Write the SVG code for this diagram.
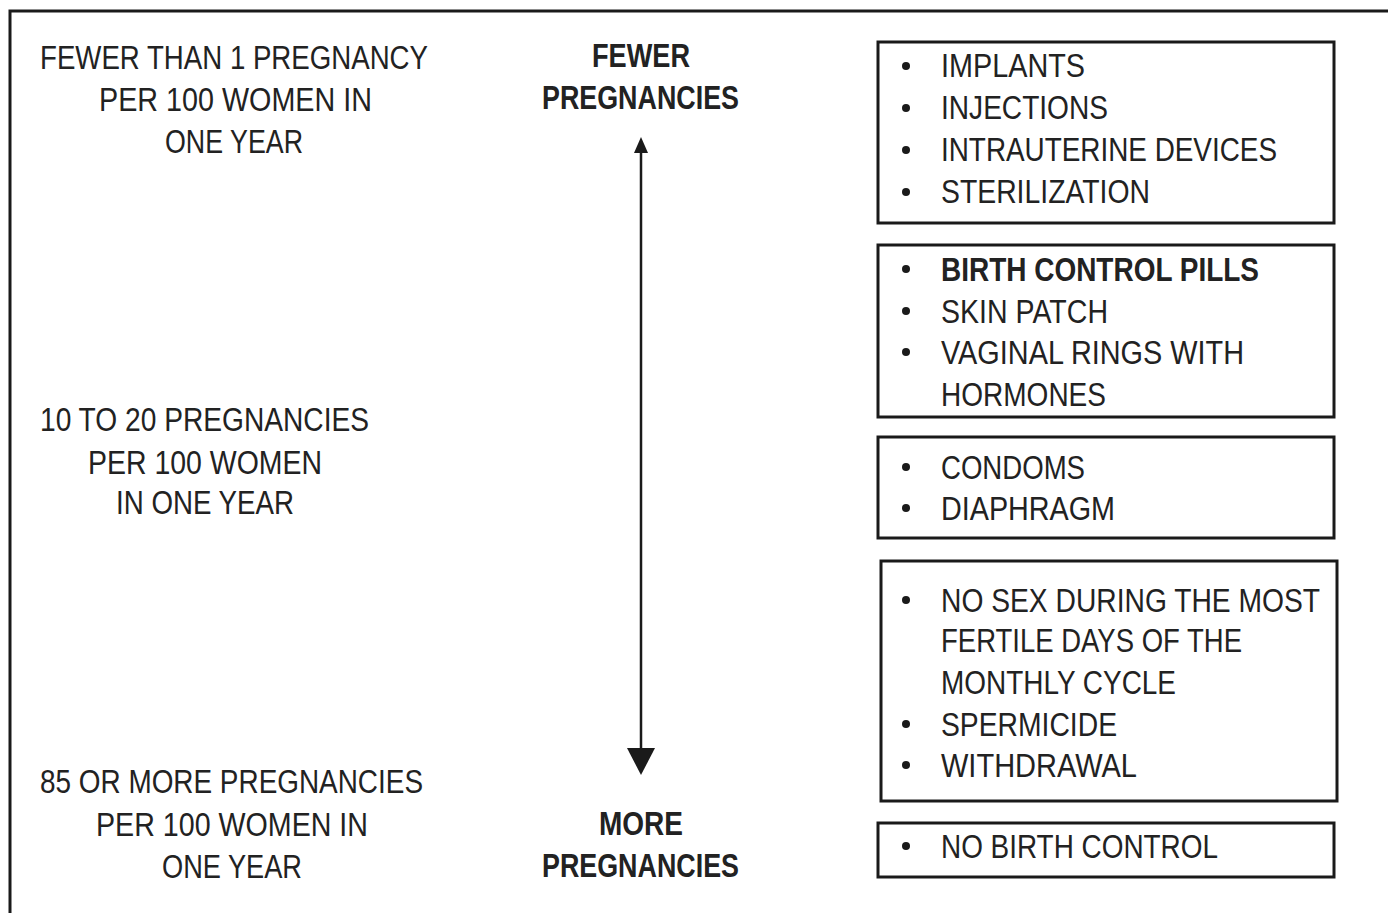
<svg xmlns="http://www.w3.org/2000/svg" width="1388" height="913" viewBox="0 0 1388 913">
<style>
text{font-family:"Liberation Sans",Arial,sans-serif;font-size:33px;fill:#222;}
.b{font-weight:bold;}
.box{fill:none;stroke:#1a1a1a;stroke-width:3;}
.dot{fill:#1a1a1a;}
</style>
<rect width="1388" height="913" fill="#fff"/>
<path d="M1388,11 H10 V913" fill="none" stroke="#1a1a1a" stroke-width="3"/>
<g id="label-fewer-than-1">
<text x="40" y="69" textLength="388" lengthAdjust="spacingAndGlyphs">FEWER THAN 1 PREGNANCY</text>
<text x="99" y="111" textLength="273" lengthAdjust="spacingAndGlyphs">PER 100 WOMEN IN</text>
<text x="165" y="153" textLength="138" lengthAdjust="spacingAndGlyphs">ONE YEAR</text>
</g>
<g id="label-10-to-20">
<text x="40" y="431" textLength="329" lengthAdjust="spacingAndGlyphs">10 TO 20 PREGNANCIES</text>
<text x="88" y="474" textLength="234" lengthAdjust="spacingAndGlyphs">PER 100 WOMEN</text>
<text x="116" y="514" textLength="178" lengthAdjust="spacingAndGlyphs">IN ONE YEAR</text>
</g>
<g id="label-85-or-more">
<text x="40" y="793" textLength="383" lengthAdjust="spacingAndGlyphs">85 OR MORE PREGNANCIES</text>
<text x="96" y="836" textLength="272" lengthAdjust="spacingAndGlyphs">PER 100 WOMEN IN</text>
<text x="162" y="878" textLength="140" lengthAdjust="spacingAndGlyphs">ONE YEAR</text>
</g>
<g id="label-fewer-pregnancies">
<text class="b" x="592" y="67" textLength="98" lengthAdjust="spacingAndGlyphs">FEWER</text>
<text class="b" x="542" y="109" textLength="197" lengthAdjust="spacingAndGlyphs">PREGNANCIES</text>
</g>
<g id="label-more-pregnancies">
<text class="b" x="599" y="835" textLength="84" lengthAdjust="spacingAndGlyphs">MORE</text>
<text class="b" x="542" y="877" textLength="197" lengthAdjust="spacingAndGlyphs">PREGNANCIES</text>
</g>
<g id="connectors">
<line x1="641" y1="150" x2="641" y2="750" stroke="#1a1a1a" stroke-width="2.5"/>
<polygon points="641,137 634,153 648,153" fill="#1a1a1a"/>
<polygon points="627,748 655,748 641,775" fill="#1a1a1a"/>
</g>
<g id="box-1">
<rect class="box" x="878" y="42" width="456" height="181"/>
<circle class="dot" cx="906" cy="66" r="4"/><text x="941" y="77" textLength="144" lengthAdjust="spacingAndGlyphs">IMPLANTS</text>
<circle class="dot" cx="906" cy="108" r="4"/><text x="941" y="119" textLength="167" lengthAdjust="spacingAndGlyphs">INJECTIONS</text>
<circle class="dot" cx="906" cy="150" r="4"/><text x="941" y="161" textLength="336" lengthAdjust="spacingAndGlyphs">INTRAUTERINE DEVICES</text>
<circle class="dot" cx="906" cy="192" r="4"/><text x="941" y="203" textLength="209" lengthAdjust="spacingAndGlyphs">STERILIZATION</text>
</g>
<g id="box-2">
<rect class="box" x="878" y="245" width="456" height="172"/>
<circle class="dot" cx="906" cy="269" r="4"/><text class="b" x="941" y="281" textLength="318" lengthAdjust="spacingAndGlyphs">BIRTH CONTROL PILLS</text>
<circle class="dot" cx="906" cy="311" r="4"/><text x="941" y="323" textLength="167" lengthAdjust="spacingAndGlyphs">SKIN PATCH</text>
<circle class="dot" cx="906" cy="352" r="4"/><text x="941" y="364" textLength="303" lengthAdjust="spacingAndGlyphs">VAGINAL RINGS WITH</text>
<text x="941" y="406" textLength="165" lengthAdjust="spacingAndGlyphs">HORMONES</text>
</g>
<g id="box-3">
<rect class="box" x="878" y="437" width="456" height="101"/>
<circle class="dot" cx="906" cy="467" r="4"/><text x="941" y="479" textLength="144" lengthAdjust="spacingAndGlyphs">CONDOMS</text>
<circle class="dot" cx="906" cy="508" r="4"/><text x="941" y="520" textLength="174" lengthAdjust="spacingAndGlyphs">DIAPHRAGM</text>
</g>
<g id="box-4">
<rect class="box" x="881" y="561" width="456" height="240"/>
<circle class="dot" cx="906" cy="600" r="4"/><text x="941" y="612" textLength="379" lengthAdjust="spacingAndGlyphs">NO SEX DURING THE MOST</text>
<text x="941" y="652" textLength="301" lengthAdjust="spacingAndGlyphs">FERTILE DAYS OF THE</text>
<text x="941" y="694" textLength="235" lengthAdjust="spacingAndGlyphs">MONTHLY CYCLE</text>
<circle class="dot" cx="906" cy="724" r="4"/><text x="941" y="736" textLength="176" lengthAdjust="spacingAndGlyphs">SPERMICIDE</text>
<circle class="dot" cx="906" cy="765" r="4"/><text x="941" y="777" textLength="196" lengthAdjust="spacingAndGlyphs">WITHDRAWAL</text>
</g>
<g id="box-5">
<rect class="box" x="878" y="823" width="456" height="54"/>
<circle class="dot" cx="906" cy="846" r="4"/><text x="941" y="858" textLength="277" lengthAdjust="spacingAndGlyphs">NO BIRTH CONTROL</text>
</g>
</svg>
